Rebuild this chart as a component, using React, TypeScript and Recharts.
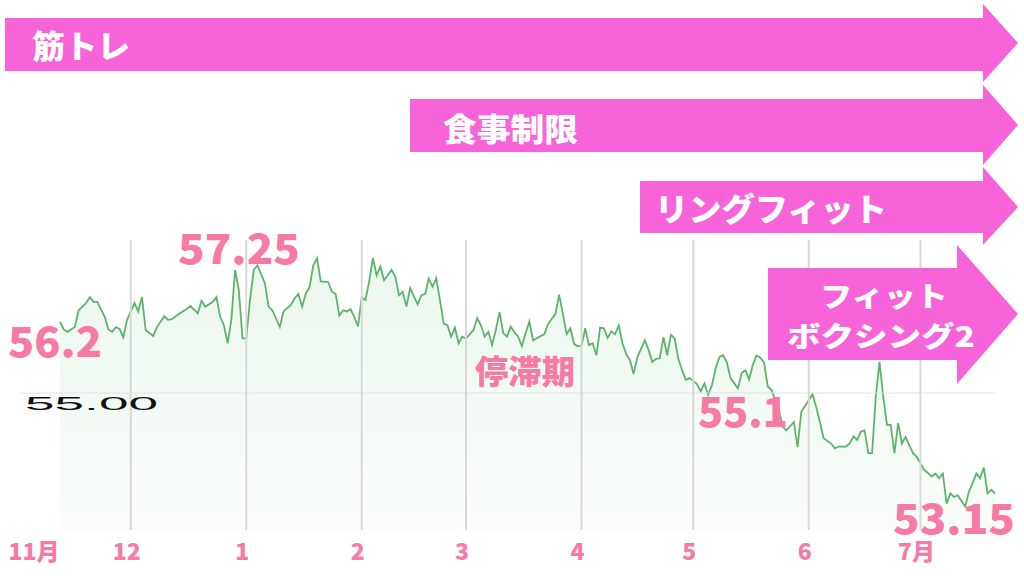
import React from "react";
import { AreaChart, Area, XAxis, YAxis, ReferenceLine } from "recharts";

// day index counted from 11/12
const days = [
  0, 1, 2, 4, 5, 7, 8, 9, 10, 12, 13, 14, 15, 16, 17, 18, 20, 21, 22, 23, 25, 26, 27, 28, 29, 30, 32, 34, 35, 37, 38, 39,
  40, 41, 42, 43, 44, 45, 46, 47, 48, 49, 50, 51, 52, 53, 55, 56, 57, 59, 60, 62, 63, 64, 65, 66, 67, 68, 69, 70, 72, 73,
  74, 75, 76, 77, 78, 79, 80, 81, 82, 83, 84, 85, 86, 87, 89, 90, 91, 92, 93, 94, 95, 96, 97, 98, 99, 100, 101, 102, 103,
  104, 105, 106, 107, 108, 109, 111, 112, 113, 114, 115, 116, 117, 118, 119, 120, 121, 122, 123, 124, 125, 126, 127, 129,
  130, 131, 133, 134, 135, 136, 137, 138, 139, 140, 141, 142, 143, 144, 145, 146, 147, 148, 149, 150, 151, 152, 153, 154,
  155, 157, 158, 159, 160, 161, 162, 163, 164, 165, 166, 167, 168, 169, 171, 172, 173, 174, 175, 176, 177, 178, 179, 180,
  182, 183, 184, 185, 186, 187, 188, 189, 190, 191, 192, 193, 194, 195, 197, 198, 199, 201, 202, 203, 204, 205, 207, 208,
  209, 211, 212, 213, 214, 215, 216, 217, 218, 219, 220, 221, 222, 223, 224, 225, 226, 227, 228, 229, 230, 232, 233, 234,
  235, 236, 237, 238, 239, 240, 241, 243, 244, 245, 246, 247, 248, 249, 250, 251,
];

const weights = [
  56.19, 56.06, 56.02, 56.1, 56.38, 56.5, 56.6, 56.52, 56.52, 56.27, 56.06, 56.02, 56.1, 56.07, 55.93, 56.22, 56.5, 56.36,
  56.6, 56.05, 55.95, 56.1, 56.19, 56.28, 56.22, 56.23, 56.32, 56.4, 56.45, 56.33, 56.54, 56.44,
  56.48, 56.52, 56.6, 56.27, 56.13, 55.83, 56.22, 57.05, 56.72, 55.91, 55.91, 56.55, 57.05, 57.13, 56.83, 56.44, 56.38,
  56.1, 56.36, 56.47, 56.58, 56.65, 56.44, 56.66, 56.77, 57.13, 57.25, 56.86, 56.85, 56.69,
  56.65, 56.29, 56.38, 56.36, 56.4, 56.27, 56.11, 56.59, 56.55, 56.86, 57.25, 56.96, 57.11, 56.88, 57.05, 56.94, 56.63,
  56.69, 56.44, 56.75, 56.61, 56.48, 56.63, 56.65, 56.91, 56.77, 56.91, 56.55, 56.16,
  56.13, 55.94, 56.09, 55.83, 55.94, 55.91, 56.05, 56.25, 56.13, 55.94, 56.02, 55.8, 56.05, 56.35, 56.0, 55.94, 56.11,
  56.01, 55.94, 55.78, 56.0, 56.19, 55.88, 55.95,
  55.98, 56.15, 56.32, 56.64, 56.32, 55.98, 56.08, 55.82, 55.78, 55.79, 56.08, 55.8, 55.83, 55.63, 56.09, 56.08, 55.92,
  56.03, 55.98, 56.13, 55.83, 55.65, 55.55, 55.32,
  55.6, 55.88, 55.72, 55.52, 55.57, 55.58, 55.93, 55.63, 55.97, 55.91, 55.57, 55.38, 55.22, 55.25, 55.15, 55.03, 55.16,
  54.97, 55.13, 55.41, 55.6, 55.63, 55.52, 55.25,
  55.08, 55.34, 55.38, 55.23, 55.47, 55.63, 55.59, 55.51, 55.11, 55.05, 54.88, 54.72, 54.44, 54.38, 54.52, 54.1, 54.69,
  54.88, 54.98, 54.77, 54.52, 54.25, 54.16, 54.08,
  54.11, 54.11, 54.16, 54.28, 54.22, 54.36, 54.38, 54.0, 54.0, 54.94, 55.52, 54.94, 54.47, 54.47, 54.0, 54.5, 54.16,
  54.27, 54.13, 54.0, 53.94, 53.72, 53.67, 53.61,
  53.66, 53.58, 53.66, 53.16, 53.33, 53.27, 53.3, 53.11, 53.36, 53.5, 53.66, 53.58, 53.76, 53.33, 53.39, 53.33,
];

const monthTicks = [0, 19, 50, 81, 109, 140, 170, 201, 231];
const monthLabels = ["11月", "12", "1", "2", "3", "4", "5", "6", "7月"];
const yTicks = [55];
const yTickLabels = ["55.00"];

const data = days.map((d, i) => ({ day: d, w: weights[i] }));

const PINK_ARROW = "#f764da";
const PINK_TEXT = "#f679a6";
const JP = "'Noto Sans CJK JP', 'Noto Sans', sans-serif";

const MonthTick = (props: any) => {
  const { x, payload } = props;
  const idx = monthTicks.indexOf(payload.value);
  const label = monthLabels[idx] ?? "";
  const dx = idx === 0 ? -26 : -4;
  return (
    <text
      x={x + dx}
      y={560}
      textAnchor="middle"
      fill={PINK_TEXT}
      fontFamily={JP}
      fontWeight={900}
      fontSize={23}
    >
      {label}
    </text>
  );
};

const WeightTick = (props: any) => {
  const { y, payload } = props;
  const idx = yTicks.indexOf(payload.value);
  return (
    <g>
      <line x1={20} x2={62} y1={y} y2={y} stroke="#e2e2e2" strokeWidth={1} />
      <text
        x={25}
        y={y + 17}
        fill="#111111"
        fontFamily="'Liberation Sans', Arial, sans-serif"
        fontSize={18}
        textLength={133}
        lengthAdjust="spacingAndGlyphs"
      >
        {yTickLabels[idx]}
      </text>
    </g>
  );
};

const arrow = (x0: number, x1: number, top: number, bottom: number, hTop: number, tip: number, hBottom: number, tipX: number) =>
  `${x0},${top} ${x1},${top} ${x1},${hTop} ${tipX},${tip} ${x1},${hBottom} ${x1},${bottom} ${x0},${bottom}`;

export default function App() {
  return (
    <div
      style={{
        position: "absolute",
        left: 0,
        top: 0,
        width: 1024,
        height: 576,
        background: "#ffffff",
        fontFamily: JP,
        overflow: "hidden",
      }}
    >
      <AreaChart width={1024} height={576} data={data} margin={{ top: 240, right: 29, bottom: 0, left: 0 }}>
        <defs>
          <linearGradient id="wfill" x1="0" y1="0" x2="0" y2="1">
            <stop offset="0%" stopColor="#8fd0a0" stopOpacity={0.3} />
            <stop offset="100%" stopColor="#8fd0a0" stopOpacity={0.08} />
          </linearGradient>
        </defs>
        <XAxis
          dataKey="day"
          type="number"
          domain={[0, 251]}
          ticks={monthTicks}
          height={46}
          axisLine={false}
          tickLine={false}
          tick={<MonthTick />}
          interval={0}
        />
        <YAxis
          type="number"
          domain={[52.72, 57.55]}
          ticks={yTicks}
          width={60}
          axisLine={false}
          tickLine={false}
          tick={<WeightTick />}
        />
        <ReferenceLine y={55} stroke="#e2e2e2" strokeWidth={1} />
        {monthTicks.slice(1).map((d) => (
          <ReferenceLine key={d} x={d} stroke="#d8d8d8" strokeWidth={2} />
        ))}
        <Area
          type="linear"
          dataKey="w"
          stroke="#5cb46c"
          strokeWidth={1.8}
          fill="url(#wfill)"
          dot={false}
          activeDot={false}
          isAnimationActive={false}
        />
      </AreaChart>

      <svg
        width={1024}
        height={576}
        style={{ position: "absolute", left: 0, top: 0, pointerEvents: "none" }}
      >
        <polygon points={arrow(5, 983, 18, 71, 4, 43, 82, 1018)} fill={PINK_ARROW} />
        <polygon points={arrow(410, 983, 99, 152, 85, 125, 165, 1018)} fill={PINK_ARROW} />
        <polygon points={arrow(640, 983, 181, 233, 167, 207, 245, 1018)} fill={PINK_ARROW} />
        <polygon points={arrow(768, 957, 268, 360, 245, 314, 384, 1018)} fill={PINK_ARROW} />

        <g fill="#ffffff" fontFamily={JP} fontWeight={900} dominantBaseline="central">
          <text x={32} y={44} fontSize={32} textLength={98} lengthAdjust="spacingAndGlyphs">筋トレ</text>
          <text x={443} y={127} fontSize={32} textLength={135} lengthAdjust="spacingAndGlyphs">食事制限</text>
          <text x={655} y={207} fontSize={32} textLength={232} lengthAdjust="spacingAndGlyphs">リングフィット</text>
          <text x={820} y={295} fontSize={28} textLength={128} lengthAdjust="spacingAndGlyphs">フィット</text>
          <text x={787} y={335} fontSize={28} textLength={188} lengthAdjust="spacingAndGlyphs">ボクシング2</text>
        </g>

        <g fill={PINK_TEXT} fontFamily={JP} fontWeight={900}>
          <text x={8} y={357} fontSize={42} textLength={94} lengthAdjust="spacingAndGlyphs">56.2</text>
          <text x={178} y={264} fontSize={42} textLength={122} lengthAdjust="spacingAndGlyphs">57.25</text>
          <text x={698} y={427} fontSize={42} textLength={90} lengthAdjust="spacingAndGlyphs">55.1</text>
          <text x={893} y={534} fontSize={41} textLength={122} lengthAdjust="spacingAndGlyphs">53.15</text>
          <text x={475} y={370} fontSize={33} textLength={100} lengthAdjust="spacingAndGlyphs" dominantBaseline="central">停滞期</text>
        </g>
      </svg>
    </div>
  );
}
